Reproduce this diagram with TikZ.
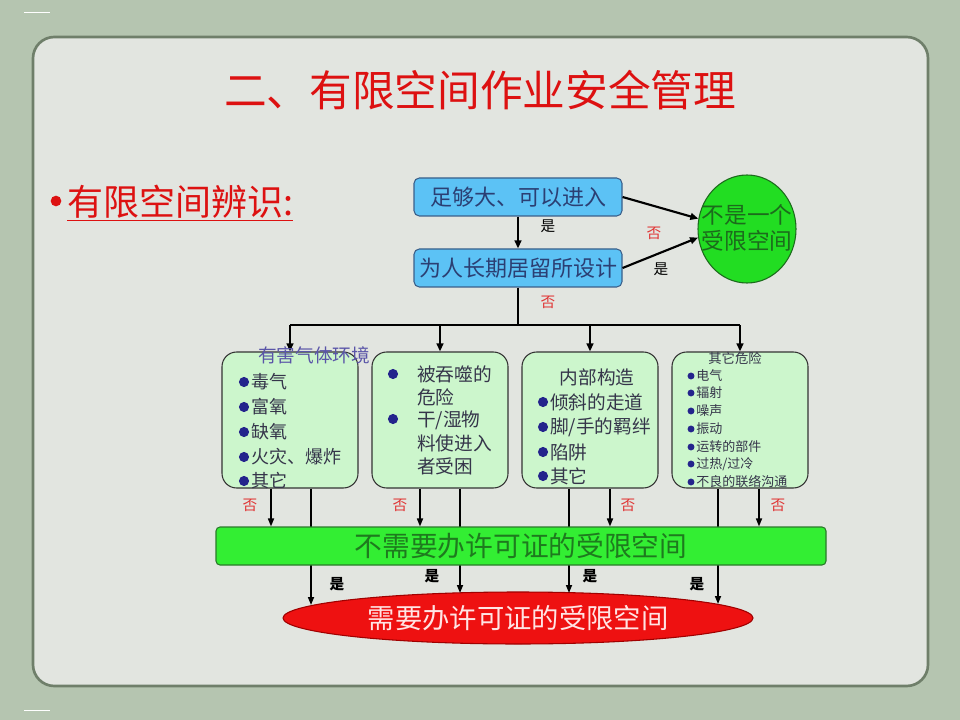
\documentclass[tikz,border=0pt]{standalone}
\usepackage{fontspec}
\setmainfont{Noto Sans CJK SC}
\usetikzlibrary{arrows.meta,shapes.geometric}
\definecolor{bg}{HTML}{B5C5B0}
\definecolor{panel}{HTML}{E2E5E0}
\definecolor{panelb}{HTML}{6F7F6A}
\definecolor{titlered}{HTML}{DD1111}
\definecolor{bluefill}{HTML}{5CC2F5}
\definecolor{blueborder}{HTML}{3A5F8A}
\definecolor{bluetext}{HTML}{2B3F73}
\definecolor{cgreen}{HTML}{22DD22}
\definecolor{cgreentext}{HTML}{1C6B1C}
\definecolor{gfill}{HTML}{CCF6CC}
\definecolor{itemtext}{HTML}{35354A}
\definecolor{hdrblue}{HTML}{5A55A8}
\definecolor{bulc}{HTML}{24248C}
\definecolor{barfill}{HTML}{33EE33}
\definecolor{barborder}{HTML}{2A7A2A}
\definecolor{bartext}{HTML}{1E7A1E}
\definecolor{ellred}{HTML}{EE1111}
\definecolor{ellborder}{HTML}{A00000}
\definecolor{elltext}{HTML}{FFE4E4}
\definecolor{redlab}{HTML}{E03535}
\newcommand\myfs[1]{\fontsize{#1}{#1}\selectfont}
\begin{document}
\begin{tikzpicture}[x=0.75pt,y=-0.75pt,
  bluebox/.style={draw=blueborder, fill=bluefill, rounded corners=4pt, minimum width=156pt, minimum height=28.5pt, line width=0.8pt, text=bluetext, font=\myfs{16.5}, inner sep=0pt},
  gbox/.style={draw=black!80, fill=gfill, rounded corners=11pt, minimum width=102pt, minimum height=102pt, line width=0.8pt},
  arr/.style={line width=1.6pt, -{Triangle[length=6pt,width=5pt]}},
  arrthin/.style={line width=1.2pt, -{Triangle[length=6pt,width=4.5pt]}},
  plain/.style={line width=1.6pt},
  nolab/.style={text=redlab, font=\myfs{11}, inner sep=0pt},
  yeslab/.style={text=black, font=\myfs{11}, inner sep=0pt},
  yesb/.style={text=black, font=\myfs{11}\bfseries, inner sep=0pt},
  itema/.style={anchor=west, inner sep=0pt, text=itemtext, font=\myfs{13.5}},
  itemb/.style={anchor=west, inner sep=0pt, text=itemtext, font=\myfs{14}},
  itemd/.style={anchor=west, inner sep=0pt, text=itemtext, font=\myfs{9.75}},
]
\useasboundingbox (0,0) rectangle (960,720);
\fill[bg] (0,0) rectangle (960,720);
% decorative small marks
\draw[white, line width=0.6pt] (24,12) -- (50,12);
\draw[white, line width=0.6pt] (24,710) -- (50,710);
% panel
\draw[panelb, fill=panel, line width=2pt, rounded corners=16pt] (33,37) rectangle (928,686);

% title
\node[text=titlered, font=\myfs{32}, inner sep=0pt] (title) at (480,90) {二、有限空间作业安全管理};
\fill[titlered] (56,201) circle[radius=4pt];
\node[text=titlered, font=\myfs{27}, inner sep=0pt, anchor=west] (sub) at (67,203) {\underline{有限空间辨识:}};

% top decision boxes
\node[bluebox] (b1) at (518,197) {足够大、可以进入};
\node[bluebox] (b2) at (518,268) {为人长期居留所设计};
\node[draw=cgreentext, fill=cgreen, ellipse, minimum width=73.5pt, minimum height=81pt, inner sep=0pt, line width=0.8pt] (nc) at (747,229) {};
\node[text=cgreentext, font=\myfs{17}, align=center, inner sep=0pt] (nct) at (747,228) {不是一个\\[2pt]受限空间};

\draw[arr] (b1) -- (b2);
\draw[arr] (b1.east) -- (nc.168);
\draw[arr] (b2.east) -- (nc.190);
\node[yeslab] (l1) at (548,226) {是};
\node[nolab] (l2) at (654,233) {否};
\node[yeslab] (l3) at (661,269) {是};
\node[nolab] (l4) at (548,302) {否};

% four category boxes
\node[gbox] (g1) at (290,420) {};
\node[gbox] (g2) at (440,420) {};
\node[gbox] (g3) at (590,420) {};
\node[gbox] (g4) at (740,420) {};

\coordinate (jc) at (518,325);
\coordinate (j1) at (290,325);
\coordinate (j4) at (740,325);
\draw[plain] (b2.south) -- (jc);
\draw[plain] (j1) -- (j4);
\foreach \g in {g1,g2,g3,g4} \draw[arr] (\g.north |- jc) -- (\g.north);

% box 1
\node[text=hdrblue, font=\myfs{14}, inner sep=0pt] (g1h) at (314,355) {有害气体环境};
\foreach \yy/\tt/\nm in {382/毒气/g1a, 407/富氧/g1b, 432/缺氧/g1c, 457/火灾、爆炸/g1d, 481/其它/g1e}{
  \fill[bulc] (244,\yy) circle[radius=3.8pt];
  \node[itema] (\nm) at (251,\yy) {\tt};
}
% box 2
\fill[bulc] (393,374) circle[radius=3.8pt];
\fill[bulc] (393,419) circle[radius=3.8pt];
\node[itemb] (g2a) at (417,374) {被吞噬的};
\node[itemb] (g2b) at (417,397) {危险};
\node[itemb] (g2c) at (417,420) {干/湿物};
\node[itemb] (g2d) at (417,443) {料使进入};
\node[itemb] (g2e) at (417,466) {者受困};
% box 3
\node[text=itemtext, font=\myfs{14}, inner sep=0pt] (g3h) at (597,377) {内部构造};
\foreach \yy in {402,427,452,476} \fill[bulc] (543,\yy) circle[radius=3.8pt];
\node[itemb] (g3a) at (550,402) {倾斜的走道};
\node[itemb] (g3b) at (550,427) {脚/手的羁绊};
\node[itemb] (g3c) at (550,452) {陷阱};
\node[itemb] (g3d) at (550,476) {其它};
% box 4
\node[text=itemtext, font=\myfs{10}, inner sep=0pt] (g4h) at (735,358) {其它危险};
\foreach \yy in {376,393,411,429,447,464,482} \fill[bulc] (691,\yy) circle[radius=2.6pt];
\node[itemd] (g4a) at (696,376) {电气};
\node[itemd] (g4b) at (696,393) {辐射};
\node[itemd] (g4c) at (696,411) {噪声};
\node[itemd] (g4d) at (696,429) {振动};
\node[itemd] (g4e) at (696,447) {运转的部件};
\node[itemd] (g4f) at (696,464) {过热/过冷};
\node[itemd] (g4g) at (696,482) {不良的联络沟通};

% result ellipse
\node[draw=ellborder, fill=ellred, ellipse, minimum width=352.5pt, minimum height=39pt, inner sep=0pt, line width=0.8pt,
  text=elltext, font=\myfs{20.5}] (ell) at (518,618) {需要办许可证的受限空间};

% long "yes" lines (behind the bar)
\coordinate (y1) at (311,0); \coordinate (e1) at (311,605);
\coordinate (y2) at (460,0); \coordinate (e2) at (460,593);
\coordinate (y3) at (569,0); \coordinate (e3) at (569,593);
\coordinate (y4) at (718,0); \coordinate (e4) at (718,604);
\draw[arrthin] (g1.south -| y1) -- (e1);
\draw[arrthin] (g2.south -| y2) -- (e2);
\draw[arrthin] (g3.south -| y3) -- (e3);
\draw[arrthin] (g4.south -| y4) -- (e4);

% bar
\node[draw=barborder, fill=barfill, rounded corners=3pt, minimum width=457.5pt, minimum height=28.5pt, inner sep=0pt, line width=0.8pt,
  text=bartext, font=\myfs{20.8}] (bar) at (521,546) {不需要办许可证的受限空间};

% short "no" arrows
\coordinate (n1) at (271,0);
\coordinate (n2) at (420,0);
\coordinate (n3) at (610,0);
\coordinate (n4) at (759,0);
\draw[arrthin] (g1.south -| n1) -- (bar.north -| n1);
\draw[arrthin] (g2.south -| n2) -- (bar.north -| n2);
\draw[arrthin] (g3.south -| n3) -- (bar.north -| n3);
\draw[arrthin] (g4.south -| n4) -- (bar.north -| n4);

\node[nolab] (o1) at (250,505) {否};
\node[nolab] (o2) at (400,505) {否};
\node[nolab] (o3) at (628,505) {否};
\node[nolab] (o4) at (778,505) {否};

\node[yesb] (s1) at (337,584) {是};
\node[yesb] (s2) at (432,576) {是};
\node[yesb] (s3) at (590,576) {是};
\node[yesb] (s4) at (697,584) {是};
\end{tikzpicture}
\end{document}
